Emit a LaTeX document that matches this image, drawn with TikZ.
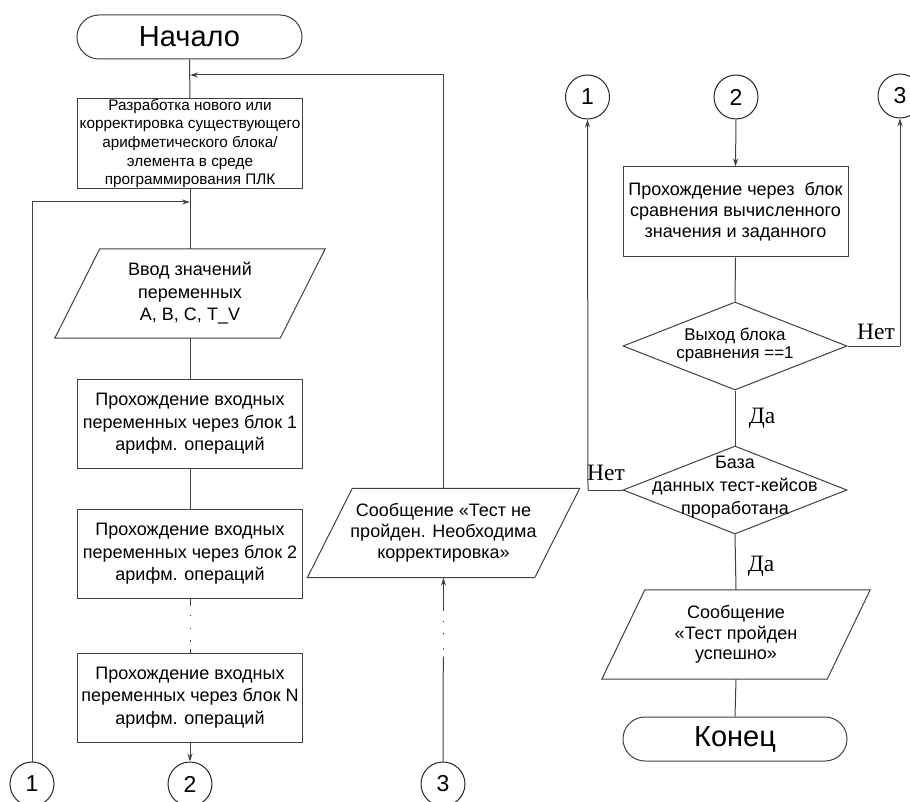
\documentclass[tikz,border=0pt]{standalone}
\usepackage{fontspec}
\setmainfont{Liberation Sans}
\newfontfamily\lblfont{Liberation Serif}
\usetikzlibrary{arrows.meta,shapes.geometric}
\begin{document}
\begin{tikzpicture}[x=1pt,y=-1pt,
  line/.style={draw=black!75, line width=1pt},
  arr/.style={line, -{Stealth[length=8pt,width=5pt]}},
  proc/.style={draw=black!75, line width=1pt, rectangle, minimum width=225pt, minimum height=89pt, inner sep=0pt, align=center, font=\fontsize{18}{22.5}\selectfont},
  term/.style={draw=black!75, line width=1pt, rectangle, rounded corners=22pt, minimum width=225pt, minimum height=44pt, inner sep=0pt, font=\fontsize{29}{30}\selectfont},
  conn/.style={draw=black!85, line width=1pt, circle, minimum size=44pt, inner sep=0pt, font=\fontsize{23}{24}\selectfont},
  iobox/.style={rectangle, inner sep=0pt, minimum height=89pt, align=center, font=\fontsize{18}{22.5}\selectfont},
  dec/.style={draw=black!75, line width=1pt, diamond, minimum width=224pt, minimum height=88pt, inner sep=0pt},
  dectext/.style={align=center, inner sep=0pt, font=\fontsize{17}{17.5}\selectfont},
  yn/.style={inner sep=0pt, font=\lblfont\fontsize{23.5}{26}\selectfont},
]
\useasboundingbox (0,0) rectangle (910,802);

% ---------- left column ----------
\node[term] (start) at (189.5,37) {Начало};
\node[proc, font=\fontsize{15.3}{18.7}\selectfont] (b1) at (190,143.5) {Разработка нового или\\корректировка существующего\\арифметического блока/\\элемента в среде\\программирования ПЛК};
\node[iobox, minimum width=270pt] (in1) at (190,293.5) {Ввод значений\\переменных\\A, B, C, T\_V};
\draw[line] ([xshift=45pt]in1.north west) -- (in1.north east) -- ([xshift=-45pt]in1.south east) -- (in1.south west) -- cycle;
\node[proc] (b2) at (190,424) {Прохождение входных\\переменных через блок 1\\арифм. операций};
\node[proc] (b3) at (190,554) {Прохождение входных\\переменных через блок 2\\арифм. операций};
\node[proc] (bN) at (190,697.5) {Прохождение входных\\переменных через блок N\\арифм. операций};

\node[conn] (c1b) at (32,784) {1};
\node[conn] (c2b) at (190,784) {2};
\node[conn] (c3b) at (443,784) {3};

\node[iobox, minimum width=272pt, font=\fontsize{18}{21}\selectfont] (msg1) at (443.5,533) {Сообщение «Тест не\\пройден. Необходима\\корректировка»};
\draw[line] ([xshift=45pt]msg1.north west) -- (msg1.north east) -- ([xshift=-45pt]msg1.south east) -- (msg1.south west) -- cycle;

\coordinate (j1) at (190,202);
\coordinate (j2) at (190,75);

\draw[line] (start.south) -- (b1.north);
\draw[line] (b1.south) -- (in1.north);
\draw[line] (in1.south) -- (b2.north);
\draw[line] (b2.south) -- (b3.north);
\draw[line, dash pattern=on 7pt off 9pt on 1.2pt off 12pt on 1.2pt off 11pt on 1.2pt off 7pt on 6pt] (b3.south) -- (bN.north);
\draw[arr] (bN.south) -- (c2b.north);
\draw[arr] (c1b.north) |- (j1);
\draw[arr] (msg1.north) |- (j2);
\draw[line, dash pattern=on 105pt off 7pt on 1.2pt off 14pt on 1.2pt off 11pt on 1.2pt off 200pt] (c3b.north) -- (msg1.south);
\draw[arr] ([yshift=-33pt]msg1.south) -- (msg1.south);

% ---------- right column ----------
\node[conn] (c1t) at (587.5,97) {1};
\node[conn] (c2t) at (736,97) {2};
\node[conn] (c3t) at (900,96) {3};

\node[proc, minimum height=90pt, font=\fontsize{18}{21}\selectfont] (r1) at (735.5,212) {Прохождение через\ \ блок\\сравнения вычисленного\\значения и заданного};
\node[dec] (d1) at (735,346) {};
\node[dectext] (d1t) at (735,345) {Выход блока\\сравнения ==1};
\node[dec] (d2) at (735,490) {};
\node[dectext, font=\fontsize{18}{23}\selectfont] (d2t) at (735,487) {База\\данных тест-кейсов\\проработана};

\node[iobox, minimum width=268pt, font=\fontsize{18}{20.5}\selectfont] (msg2) at (736,634.5) {Сообщение\\«Тест пройден\\успешно»};
\draw[line] ([xshift=43pt]msg2.north west) -- (msg2.north east) -- ([xshift=-43pt]msg2.south east) -- (msg2.south west) -- cycle;
\node[term, minimum width=224pt] (end) at (735,739) {Конец};

\coordinate (k1) at (900,346);
\coordinate (k2) at (588,490);

\draw[arr] (c2t.south) -- (r1.north);
\draw[line] (r1.south) -- (d1.north);
\draw[line] (d1.east) -- (k1);
\draw[arr] (k1) -- (c3t.south);
\draw[line] (d1.south) -- (d2.north);
\draw[line] (d2.west) -- (k2);
\draw[arr] (k2) -- (c1t.south);
\draw[line] (d2.south) -- (msg2.north);
\draw[line] (msg2.south) -- (end.north);

\node[yn] (n1) at (876,332) {Нет};
\node[yn] (n2) at (606,473) {Нет};
\node[yn] (y1) at (762,418) {Да};
\node[yn] (y2) at (761,566) {Да};
\end{tikzpicture}
\end{document}
